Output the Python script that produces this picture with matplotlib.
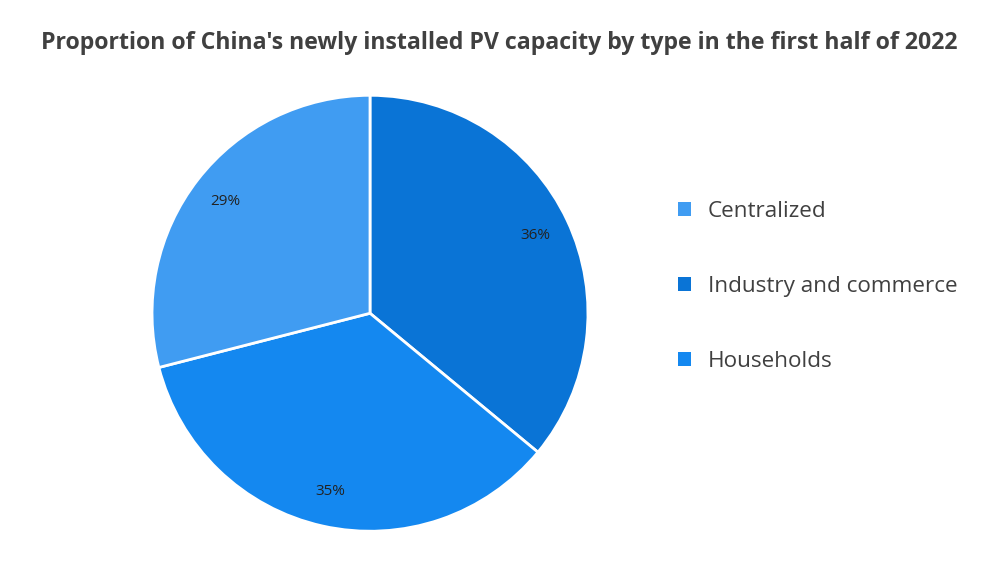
import matplotlib.pyplot as plt
from matplotlib.patches import Patch

# slice order as drawn (clockwise from 12 o'clock)
labels = ["Industry and commerce", "Households", "Centralized"]
shares = [36, 35, 29]
colors = ["#0A74D6", "#1488F0", "#409CF2"]
legend_order = ["Centralized", "Industry and commerce", "Households"]

plt.rcParams['font.family'] = ['Open Sans', 'DejaVu Sans']

fig = plt.figure(figsize=(10, 5.67), dpi=100)
fig.text(0.499, 0.924, "Proportion of China's newly installed PV capacity by type in the first half of 2022",
         ha='center', va='center', fontsize=16.7, fontweight='bold', color='#404040')

ax = fig.add_axes([0.153, 0.065, 0.434, 0.765])
wedges, texts, autotexts = ax.pie(shares, colors=colors, startangle=90, counterclock=False,
                                  autopct='%d%%', pctdistance=0.84,
                                  wedgeprops=dict(edgecolor='white', linewidth=2),
                                  textprops=dict(fontsize=11, color='#222222'))
ax.set_xlim(-0.995, 0.995)
ax.set_ylim(-0.995, 0.995)
ax.set_aspect('equal')

handles = [Patch(facecolor=colors[labels.index(n)], edgecolor='none') for n in legend_order]
leg = fig.legend(handles, legend_order, loc='center left', bbox_to_anchor=(0.658, 0.495),
                 frameon=False, fontsize=16.2, handlelength=0.55, handleheight=0.55,
                 handletextpad=0.75, labelspacing=2.4)
for t in leg.get_texts():
    t.set_color('#404040')

fig.savefig('out.png', dpi=100)
